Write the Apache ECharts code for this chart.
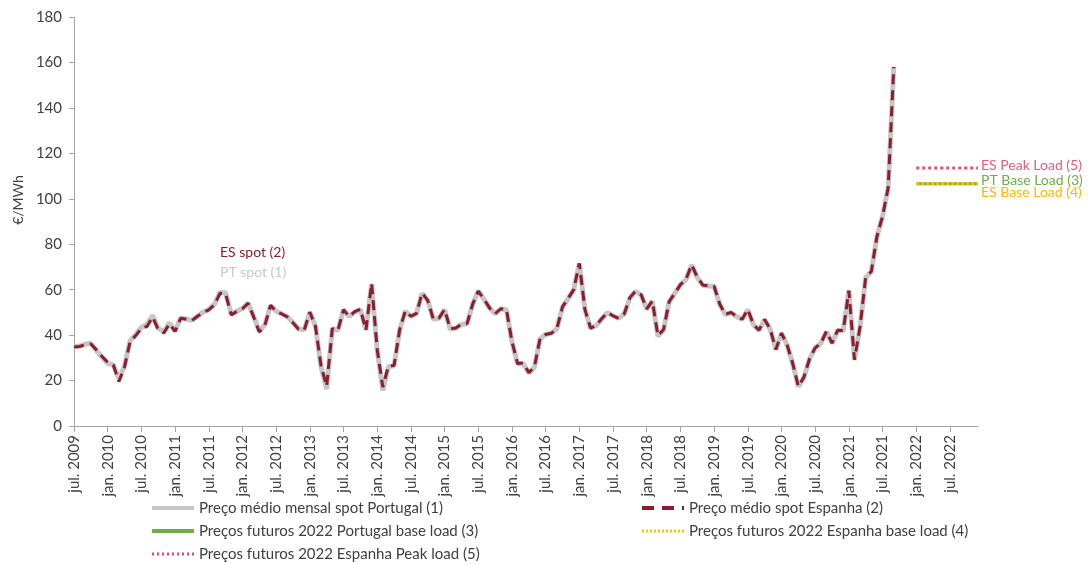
<!DOCTYPE html>
<html>
<head>
<meta charset="utf-8">
<script src="https://cdn.jsdelivr.net/npm/echarts@6/dist/echarts.min.js"></script>
<style>
  html, body { margin: 0; padding: 0; background: #fff; }
  #dom { width: 1088px; height: 564px; }
</style>
</head>
<body>
<div id="dom"></div>
<script>
// meses jul. 2009 .. dez. 2022
const monthNames = ['jan.', 'fev.', 'mar.', 'abr.', 'mai.', 'jun.', 'jul.', 'ago.', 'set.', 'out.', 'nov.', 'dez.'];
const categories = [];
for (let y = 2009; y <= 2022; y++) {
    for (let m = (y === 2009 ? 6 : 0); m < 12; m++) {
        categories.push(monthNames[m] + ' ' + y);
    }
}

// Preço médio spot Espanha (2), jul. 2009 .. set. 2021
const esSpot = [
    34.8, 35.0, 35.8, 36.1, 33.5, 30.6,
    28.0, 26.8, 19.6, 26.0, 37.2, 39.8, 43.0, 43.8, 47.9, 42.4, 41.0, 45.0,
    41.6, 47.4, 47.0, 46.4, 48.3, 50.0, 51.1, 53.3, 58.4, 58.2, 48.9, 50.4,
    51.6, 54.0, 48.0, 41.4, 44.4, 53.1, 50.4, 49.3, 48.0, 45.4, 42.6, 42.2,
    50.1, 43.9, 26.4, 17.5, 42.8, 42.0, 51.2, 48.2, 50.3, 51.4, 42.2, 62.8,
    33.6, 17.1, 26.5, 26.6, 42.4, 50.6, 48.3, 49.6, 58.5, 55.3, 47.0, 47.5,
    51.3, 42.8, 43.1, 44.8, 45.1, 53.6, 59.4, 55.9, 52.0, 49.4, 51.6, 51.4,
    37.2, 27.5, 27.7, 23.5, 26.0, 38.5, 40.3, 40.8, 42.9, 52.4, 56.2, 60.0,
    71.6, 51.2, 43.1, 44.2, 47.3, 49.9, 48.5, 47.4, 49.4, 56.5, 59.3, 57.8,
    51.5, 55.0, 39.8, 42.5, 54.8, 58.4, 62.2, 64.6, 71.0, 65.5, 62.0, 61.7,
    61.5, 53.7, 49.1, 50.0, 48.3, 47.0, 51.3, 44.7, 42.2, 46.9, 42.6, 33.7,
    40.9, 35.7, 27.6, 17.4, 21.5, 29.6, 34.4, 36.4, 41.6, 36.5, 42.1, 42.0,
    59.5, 29.2, 43.8, 65.5, 68.0, 83.4, 92.3, 104.8, 158.0
];

// Preço médio mensal spot Portugal (1), jul. 2009 .. set. 2021
const ptSpot = [
    34.9, 35.2, 36.0, 36.4, 33.2, 30.2,
    27.6, 26.9, 20.8, 26.4, 37.5, 40.2, 43.4, 44.8, 48.6, 43.0, 41.5, 45.4,
    41.8, 47.6, 47.1, 46.5, 48.4, 50.1, 51.3, 53.5, 58.8, 58.6, 49.2, 50.5,
    51.7, 54.1, 48.2, 41.8, 44.6, 53.0, 50.5, 49.4, 48.1, 45.5, 42.7, 42.3,
    50.0, 44.0, 26.0, 16.2, 42.9, 42.1, 51.1, 48.1, 50.2, 51.3, 42.3, 62.5,
    33.5, 15.6, 26.2, 26.4, 42.3, 50.5, 48.2, 49.6, 58.4, 55.2, 47.0, 47.4,
    51.2, 42.7, 43.0, 44.7, 45.0, 53.6, 59.4, 55.8, 51.9, 49.4, 51.5, 51.3,
    37.0, 27.4, 27.5, 23.3, 25.8, 38.4, 40.3, 40.8, 42.8, 52.3, 56.1, 59.9,
    71.5, 51.1, 43.0, 44.1, 47.2, 49.9, 48.5, 47.4, 49.3, 56.4, 59.2, 57.7,
    51.4, 54.9, 39.5, 42.3, 54.7, 58.4, 62.1, 64.5, 70.9, 65.4, 61.9, 61.6,
    61.4, 53.6, 49.0, 49.9, 48.2, 47.0, 51.2, 44.6, 42.1, 46.8, 42.5, 33.6,
    40.8, 35.6, 27.4, 17.3, 21.4, 29.5, 34.3, 36.3, 41.5, 36.4, 42.0, 41.9,
    59.8, 29.0, 43.6, 65.4, 67.9, 83.3, 92.3, 104.7, 158.2
];

// Preços futuros 2022 (jan. .. dez. 2022)
const futuresMonths = categories.slice(categories.indexOf('jan. 2022'));
const futPtBase = [106.6, 106.6, 106.6, 106.6, 106.6, 106.6, 106.6, 106.6, 106.6, 106.6, 106.6, 106.6];
const futEsBase = [106.6, 106.6, 106.6, 106.6, 106.6, 106.6, 106.6, 106.6, 106.6, 106.6, 106.6, 106.6];
const futEsPeak = [113.6, 113.6, 113.6, 113.6, 113.6, 113.6, 113.6, 113.6, 113.6, 113.6, 113.6, 113.6];

const yTicks = [0, 20, 40, 60, 80, 100, 120, 140, 160, 180];

const names = {
    pt: 'Preço médio mensal spot Portugal (1)',
    es: 'Preço médio spot Espanha (2)',
    ptBase: 'Preços futuros 2022 Portugal base load (3)',
    esBase: 'Preços futuros 2022 Espanha base load (4)',
    esPeak: 'Preços futuros 2022 Espanha Peak load (5)'
};

const font = 'Lato, "Open Sans", sans-serif';
const textColor = '#404040';
const axisColor = '#a6a6a6';

function futures(values) {
    return values.map((v, k) => [futuresMonths[k], v]);
}

function legendBox(left, items) {
    return {
        orient: 'vertical',
        left: left,
        top: 500,
        padding: 0,
        itemWidth: 42,
        itemHeight: 16,
        itemGap: 7,
        selectedMode: false,
        itemStyle: {opacity: 0},
        textStyle: {color: textColor, fontSize: 15, lineHeight: 16, fontFamily: font},
        data: items
    };
}

const chart = echarts.init(document.getElementById('dom'), null, {renderer: 'canvas'});

chart.setOption({
    animation: false,
    backgroundColor: '#fff',
    textStyle: {fontFamily: font},
    grid: {left: 74, right: 110, top: 17, bottom: 138, containLabel: false},
    xAxis: {
        type: 'category',
        data: categories,
        boundaryGap: false,
        axisLine: {lineStyle: {color: axisColor, width: 1}},
        axisTick: {show: true, interval: 5, length: 6, lineStyle: {color: axisColor}},
        axisLabel: {
            interval: 5,
            rotate: 90,
            margin: 9,
            color: textColor,
            fontSize: 15,
            fontFamily: font
        },
        splitLine: {show: false}
    },
    yAxis: {
        type: 'value',
        min: yTicks[0],
        max: yTicks[yTicks.length - 1],
        interval: yTicks[1] - yTicks[0],
        axisLine: {show: true, lineStyle: {color: axisColor, width: 1}},
        axisTick: {show: true, length: 5, lineStyle: {color: axisColor}},
        axisLabel: {color: textColor, fontSize: 15, margin: 12, fontFamily: font},
        splitLine: {show: false}
    },
    legend: [
        legendBox(150, [
            {name: names.pt, lineStyle: {width: 4}},
            {name: names.ptBase, lineStyle: {width: 4}},
            {name: names.esPeak, lineStyle: {width: 3, type: [2, 3]}}
        ]),
        legendBox(640, [
            {name: names.es, lineStyle: {width: 4, type: [12, 8]}},
            {name: names.esBase, lineStyle: {width: 3, type: [2, 2]}}
        ])
    ],
    graphic: [
        {
            type: 'text',
            x: 18,
            y: 200,
            rotation: Math.PI / 2,
            style: {
                text: '€/MWh',
                fill: textColor,
                font: '14px ' + font,
                textAlign: 'center',
                textVerticalAlign: 'middle'
            }
        },
        {
            type: 'text',
            left: 220,
            top: 245,
            style: {text: 'ES spot (2)', fill: '#8c1d2c', font: '14px ' + font}
        },
        {
            type: 'text',
            left: 220,
            top: 265,
            style: {text: 'PT spot (1)', fill: '#c8c8c8', font: '14px ' + font}
        }
    ],
    series: [
        {
            name: names.pt,
            type: 'line',
            data: ptSpot,
            symbol: 'none',
            lineStyle: {color: '#c6c6c6', width: 5},
            itemStyle: {color: '#c6c6c6'},
            z: 2
        },
        {
            name: names.es,
            type: 'line',
            data: esSpot,
            symbol: 'none',
            lineStyle: {color: '#8c1d2c', width: 3, type: [10, 6]},
            itemStyle: {color: '#8c1d2c'},
            z: 3
        },
        {
            name: names.ptBase,
            type: 'line',
            data: futures(futPtBase),
            symbol: 'none',
            lineStyle: {color: '#70ad47', width: 3},
            itemStyle: {color: '#70ad47'},
            endLabel: {
                show: true,
                formatter: 'PT Base Load (3)',
                color: '#70ad47',
                fontSize: 14,
                fontFamily: font,
                distance: 3,
                offset: [0, -3]
            },
            z: 4
        },
        {
            name: names.esBase,
            type: 'line',
            data: futures(futEsBase),
            symbol: 'none',
            lineStyle: {color: '#ffc000', width: 3, type: [3, 2]},
            itemStyle: {color: '#ffc000'},
            endLabel: {
                show: true,
                formatter: 'ES Base Load (4)',
                color: '#ffb800',
                fontSize: 14,
                fontFamily: font,
                distance: 3,
                offset: [0, 9]
            },
            z: 5
        },
        {
            name: names.esPeak,
            type: 'line',
            data: futures(futEsPeak),
            symbol: 'none',
            lineStyle: {color: '#e0506e', width: 3, type: [3, 3]},
            itemStyle: {color: '#e0506e'},
            endLabel: {
                show: true,
                formatter: 'ES Peak Load (5)',
                color: '#e0607a',
                fontSize: 14,
                fontFamily: font,
                distance: 3,
                offset: [0, -2]
            },
            z: 4
        }
    ]
});
</script>
</body>
</html>
